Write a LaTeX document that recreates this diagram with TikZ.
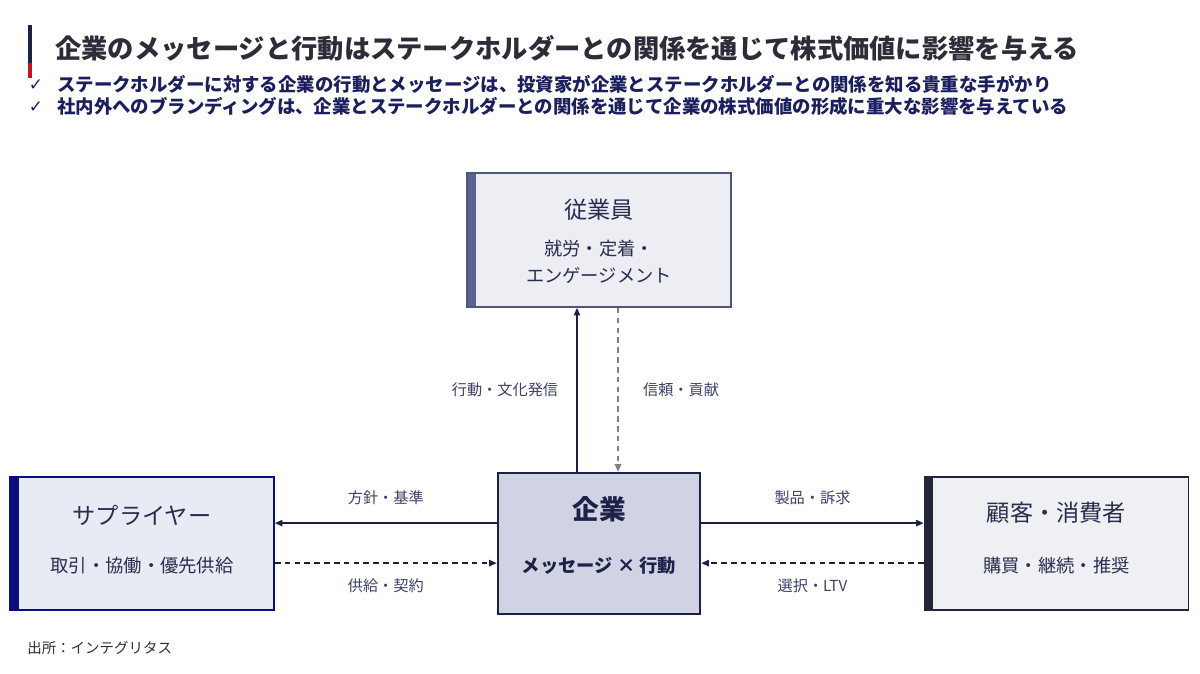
\documentclass[tikz,border=0pt]{standalone}
\usepackage{fontspec}
\setmainfont{Noto Sans CJK JP}
\newfontfamily\symfont{DejaVu Sans}
\usetikzlibrary{arrows.meta,positioning,calc}
\definecolor{titlegray}{RGB}{45,45,58}
\definecolor{leadnavy}{RGB}{27,31,94}
\definecolor{barnavy}{RGB}{28,31,74}
\definecolor{barred}{RGB}{192,22,27}
\definecolor{textnavy}{RGB}{42,45,80}
\definecolor{labelnavy}{RGB}{60,64,106}
\definecolor{arrownavy}{RGB}{30,32,64}
\definecolor{empfill}{RGB}{236,238,244}
\definecolor{empline}{RGB}{80,85,122}
\definecolor{empbar}{RGB}{93,97,144}
\definecolor{supfill}{RGB}{232,234,244}
\definecolor{supline}{RGB}{12,12,128}
\definecolor{kigyofill}{RGB}{208,211,227}
\definecolor{kigyoline}{RGB}{31,34,72}
\definecolor{custfill}{RGB}{239,240,243}
\definecolor{custline}{RGB}{34,37,58}

\tikzset{
  partybox/.style={draw, rectangle, line width=1.2pt, minimum width=6.6cm, minimum height=3.33cm},
  leftbar/.style={path picture={\fill[#1] (path picture bounding box.north west) rectangle ([xshift=0.22cm]path picture bounding box.south west);}},
  boxtitle/.style={text=textnavy, font=\fontsize{16.5}{20}\selectfont},
  boxsub/.style={text=textnavy, font=\fontsize{13}{19.2}\selectfont, align=center},
  flowlabel/.style={text=labelnavy, font=\fontsize{10.8}{13}\selectfont},
  flow/.style={line width=1pt, arrownavy, -{Triangle[length=0.19cm,width=0.16cm]}},
  backflow/.style={flow, dash pattern=on 4pt off 3pt},
}

\begin{document}
\begin{tikzpicture}[x=0.025cm, y=-0.025cm]
  \useasboundingbox (0,0) rectangle (1200,673);

  % 見出し
  \draw[barnavy, line width=2.2pt] (30,25) -- (30,63);
  \draw[barred, line width=2.2pt] (30,63) -- (30,78);
  \node[anchor=west, inner sep=0, text=titlegray, font=\fontsize{18.7}{22}\selectfont\bfseries] (title) at (55,48)
    {企業のメッセージと行動はステークホルダーとの関係を通じて株式価値に影響を与える};
  \node[inner sep=0, text=leadnavy, font=\symfont\fontsize{12}{14}\selectfont] (check1) at (36,85) {✓};
  \node[anchor=west, inner sep=0, text=leadnavy, font=\fontsize{13.1}{16}\selectfont\bfseries] (lead1) at (57,84)
    {ステークホルダーに対する企業の行動とメッセージは、投資家が企業とステークホルダーとの関係を知る貴重な手がかり};
  \node[inner sep=0, text=leadnavy, font=\symfont\fontsize{12}{14}\selectfont] (check2) at (36,107) {✓};
  \node[anchor=west, inner sep=0, text=leadnavy, font=\fontsize{13.1}{16}\selectfont\bfseries] (lead2) at (57,106)
    {社内外へのブランディングは、企業とステークホルダーとの関係を通じて企業の株式価値の形成に重大な影響を与えている};

  % 従業員
  \node[partybox, fill=empfill, draw=empline, leftbar=empbar, minimum height=3.35cm] (emp) at (599,240) {};
  \node[boxtitle] (emptitle) at ([yshift=0.75cm]emp.center) {従業員};
  \node[boxsub] (empsub) at ([yshift=-0.54cm]emp.center) {就労・定着・\\エンゲージメント};

  % サプライヤー
  \node[partybox, fill=supfill, draw=supline, leftbar=supline] (sup) at (142,543.5) {};
  \node[boxtitle] (suptitle) at ([yshift=0.71cm]sup.center) {サプライヤー};
  \node[boxsub] (supsub) at ([yshift=-0.56cm]sup.center) {取引・協働・優先供給};

  % 企業
  \node[partybox, fill=kigyofill, draw=kigyoline, line width=1.8pt, minimum width=5.05cm, minimum height=3.52cm] (kigyo) at (599,543.5) {};
  \node[text=kigyoline, font=\fontsize{19}{22}\selectfont\bfseries] (kigyotitle) at ([yshift=0.86cm]kigyo.center) {企業};
  \node[text=kigyoline, font=\fontsize{13}{16}\selectfont\bfseries] (kigyosub) at ([yshift=-0.56cm]kigyo.center) {メッセージ × 行動};

  % 顧客・消費者
  \node[partybox, fill=custfill, draw=custline, leftbar=custline] (cust) at (1056.5,543.5) {};
  \node[boxtitle] (custtitle) at ([yshift=0.76cm]cust.center) {顧客・消費者};
  \node[boxsub] (custsub) at ([yshift=-0.56cm]cust.center) {購買・継続・推奨};

  % 企業と従業員
  \draw[flow] ([xshift=-0.55cm]kigyo.north) -- ([xshift=-0.55cm]emp.south)
    node[flowlabel, midway, xshift=-1.8cm] (actlabel) {行動・文化発信};
  \draw[backflow, gray] ([xshift=0.475cm]emp.south) -- ([xshift=0.475cm]kigyo.north)
    node[flowlabel, midway, xshift=1.575cm] (trustlabel) {信頼・貢献};

  % 企業とサプライヤー
  \draw[flow] ([yshift=0.51cm]kigyo.west) -- ([yshift=0.51cm]sup.east)
    node[flowlabel, midway, yshift=0.625cm] (policylabel) {方針・基準};
  \draw[backflow] ([yshift=-0.49cm]sup.east) -- ([yshift=-0.49cm]kigyo.west)
    node[flowlabel, midway, yshift=-0.575cm] (supplylabel) {供給・契約};

  % 企業と顧客
  \draw[flow] ([yshift=0.51cm]kigyo.east) -- ([yshift=0.51cm]cust.west)
    node[flowlabel, midway, yshift=0.625cm] (productlabel) {製品・訴求};
  \draw[backflow] ([yshift=-0.49cm]cust.west) -- ([yshift=-0.49cm]kigyo.east)
    node[flowlabel, midway, yshift=-0.575cm] (choicelabel) {選択・LTV};

  % 出所
  \node[anchor=west, inner sep=0, text=titlegray, font=\fontsize{10.3}{12}\selectfont] (source) at (27,648) {出所：インテグリタス};
\end{tikzpicture}
\end{document}
